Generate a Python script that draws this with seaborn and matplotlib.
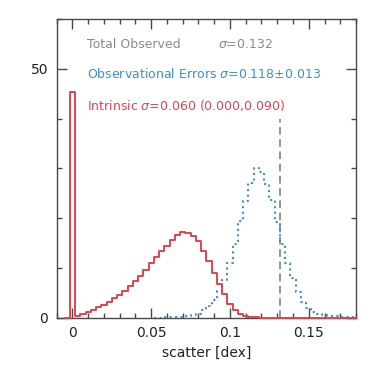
import numpy as np
import pandas as pd
import matplotlib
matplotlib.use("Agg")
import matplotlib.pyplot as plt
import seaborn as sns
from matplotlib.ticker import MultipleLocator

### Dados (histogramas; bin = 1/300 dex, centros em k/300)
bin_w = 1.0 / 300.0
x_max = 0.18
k_intr = np.arange(-1, 54)
intrinseco = [0.0, 45.4, 0.4, 0.8, 1.2, 1.6, 2.1, 2.6, 3.2, 3.9, 4.6,
              5.4, 6.3, 7.3, 8.4, 9.6, 10.9, 12.2, 13.4, 14.5, 15.6,
              16.6, 17.3, 17.0, 16.5, 15.4, 13.4, 11.3, 8.9, 6.7, 4.8,
              2.8, 1.5, 0.8, 0.4, 0.15, 0.05] + [0.0] * 18
k_obs = np.arange(16, 55)
erros_obs = [0.0, 0.0, 0.05, 0.1, 0.15, 0.2, 0.3, 0.5, 0.8, 1.5,
             2.3, 3.6, 5.3, 7.5, 10.9, 14.9, 19.5, 23.5, 27.0, 30.0,
             29.3, 26.8, 23.7, 19.3, 14.8, 10.9, 7.9, 5.2, 3.2, 1.9,
             1.2, 0.8, 0.5, 0.4, 0.3, 0.2, 0.1, 0.05, 0.0]
sigma_total = 0.132
altura_total = 40

x_ticks = [0, 0.05, 0.1, 0.15]
x_labels = ["0", "0.05", "0.1", "0.15"]
y_ticks = [0, 50]
y_labels = ["0", "50"]

vermelho = "#e2434d"
azul = "#3d8fd1"
cinza = "#8a8a8a"
eixo = "#4a4a4a"

df_intr = pd.DataFrame({"x": k_intr * bin_w, "n": intrinseco})
df_obs = pd.DataFrame({"x": k_obs * bin_w, "n": erros_obs})
bins_intr = list((np.arange(k_intr[0], k_intr[-1] + 2) - 0.5) * bin_w)
bins_intr[-1] = x_max
bins_obs = list((np.arange(k_obs[0], k_obs[-1] + 2) - 0.5) * bin_w)

sns.set_style("ticks")
plt.rcParams["font.family"] = ["DejaVu Sans"]

fig = plt.figure(figsize = (3.74, 3.74), dpi = 100)
ax = fig.add_axes([0.1516, 0.1505, 0.8003, 0.7987])

sns.histplot(data = df_obs, x = "x", weights = "n", bins = bins_obs, element = "step",
             fill = False, color = azul, linestyle = ":", linewidth = 1.5, ax = ax,
             zorder = 3)
sns.histplot(data = df_intr, x = "x", weights = "n", bins = bins_intr, element = "step",
             fill = False, color = vermelho, linewidth = 1.4, ax = ax,
             zorder = 3.1, clip_on = False)
ax.vlines(sigma_total, 0, altura_total, colors = "#777777", linestyles = (0, (5, 3)), linewidth = 1.1)

ax.set_xlim(-0.01, x_max)
ax.set_ylim(0, 60)
ax.set_xticks(x_ticks, labels = x_labels)
ax.set_yticks(y_ticks, labels = y_labels)
ax.xaxis.set_minor_locator(MultipleLocator(0.01))
ax.yaxis.set_minor_locator(MultipleLocator(10))
ax.tick_params(which = "both", direction = "in", top = True, right = True, color = eixo, width = 1.0)
ax.tick_params(which = "major", length = 7, labelsize = 10, pad = 6, labelcolor = "#222222")
ax.tick_params(which = "minor", length = 3.5)
for s in ax.spines.values():
    s.set_visible(True)
    s.set_color(eixo)
    s.set_linewidth(1.0)
ax.set_xlabel("scatter [dex]", fontsize = 10, color = "#222222", labelpad = 4)
ax.set_ylabel("")

ax.text(0.100, 0.913, "Total Observed", transform = ax.transAxes, color = cinza, fontsize = 9, va = "center")
ax.text(0.539, 0.913, r"$\sigma$=0.132", transform = ax.transAxes, color = cinza, fontsize = 9, va = "center")
ax.text(0.100, 0.815, r"Observational Errors $\sigma$=0.118$\pm$0.013", transform = ax.transAxes,
        color = azul, fontsize = 9, va = "center")
ax.text(0.100, 0.712, r"Intrinsic $\sigma$=0.060 (0.000,0.090)", transform = ax.transAxes,
        color = vermelho, fontsize = 9, va = "center")

plt.savefig("out.png", dpi = 100)
